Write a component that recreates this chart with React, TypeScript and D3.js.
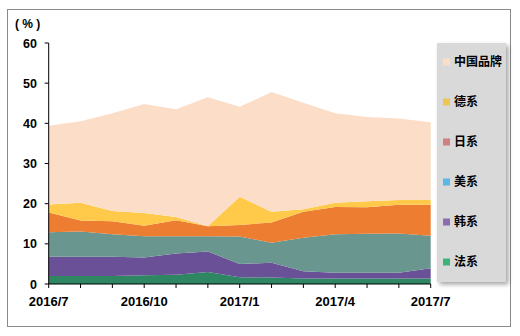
import React from "react";
import * as d3 from "d3";

const months = ["2016/7","2016/8","2016/9","2016/10","2016/11","2016/12","2017/1","2017/2","2017/3","2017/4","2017/5","2017/6","2017/7"];
const tickLabels = ["2016/7","2016/10","2017/1","2017/4","2017/7"];
const seriesNames = ["法系","韩系","美系","日系","德系","中国品牌"];
const french = [2.0,2.0,2.0,2.2,2.3,3.0,1.7,1.6,1.4,1.4,1.4,1.4,1.4];
const korean = [4.8,4.8,4.8,4.4,5.3,5.1,3.3,3.7,1.8,1.4,1.4,1.4,2.5];
const american = [6.1,6.3,5.6,5.3,4.3,3.8,6.8,5.0,8.3,9.6,9.7,9.8,8.1];
const japanese = [4.9,2.7,3.2,2.6,4.0,2.5,2.9,5.0,6.5,6.8,6.6,7.1,7.7];
const german = [2.0,4.4,2.6,3.2,0.8,0.0,7.0,2.7,0.6,1.0,1.5,1.2,1.2];
const chinese = [19.6,20.3,24.3,27.1,26.8,32.1,22.4,29.8,26.5,22.3,21.0,20.3,19.4];
const yTicks = [0,10,20,30,40,50,60];

const areaColors = ["#2E8663","#6A5096","#6A9690","#ED7D31","#FFC94A","#FCDEC8"];
const legendColors = ["#3DB37A","#8C6DB0","#5BB8E6","#D08080","#F0C450","#FBDEC8"];

export default function App() {
  const left = 48.7, right = 430.7, top = 43, bottom = 284;
  const x = d3.scalePoint<string>().domain(months).range([left, right]);
  const y = d3.scaleLinear().domain([0, 60]).range([bottom, top]);
  const values = [french, korean, american, japanese, german, chinese];
  const rows = months.map((m, i) => {
    const r: any = { month: m };
    seriesNames.forEach((s, k) => (r[s] = values[k][i]));
    return r;
  });
  const stack = d3.stack<any>().keys(seriesNames)(rows);
  const area = d3
    .area<any>()
    .x((d) => x(d.data.month) as number)
    .y0((d) => y(d[0]))
    .y1((d) => y(d[1]));
  const font = "'Liberation Sans', Arial, sans-serif";
  const cjk = "'Noto Sans CJK SC', sans-serif";
  const legendOrder = [5, 4, 3, 2, 1, 0];
  return (
    <svg width={520} height={336} style={{ position: "absolute", left: 0, top: 0 }}>
      <defs>
        <filter id="sh" x="-20%" y="-10%" width="150%" height="120%">
          <feDropShadow dx="2.5" dy="2.5" stdDeviation="2" floodColor="#000" floodOpacity="0.35" />
        </filter>
      </defs>
      <rect x={0} y={0} width={520} height={336} fill="#fff" />
      <rect x={7.5} y={9.5} width={503} height={317} fill="#fff" stroke="#8a8a8a" strokeWidth={1} />
      {stack.map((s, k) => (
        <path key={k} d={area(s) as string} fill={areaColors[k]} />
      ))}
      <line x1={left} x2={left} y1={top} y2={bottom} stroke="#000" />
      <line x1={left} x2={right} y1={bottom} y2={bottom} stroke="#000" />
      {yTicks.map((t) => (
        <g key={t}>
          <line x1={left - 4} x2={left} y1={y(t)} y2={y(t)} stroke="#000" />
          <text x={37} y={y(t)} dy="0.36em" textAnchor="end" fontFamily={font} fontWeight="bold" fontSize={12.5} fill="#000">{t}</text>
        </g>
      ))}
      {months.map((m) => (
        <line key={m} x1={x(m)} x2={x(m)} y1={bottom} y2={bottom + 4} stroke="#000" />
      ))}
      {tickLabels.map((m) => (
        <text key={m} x={x(m)} y={306} textAnchor="middle" fontFamily={font} fontWeight="bold" fontSize={13} fill="#000">{m}</text>
      ))}
      <text x={15} y={28} fontFamily={font} fontWeight="bold" fontSize={12} fill="#000">( % )</text>
      <rect x={437} y={43} width={69} height={239} fill="#d9d9d9" filter="url(#sh)" />
      {legendOrder.map((k, i) => {
        const cy = 62 + i * 40;
        return (
          <g key={k}>
            <rect x={443} y={cy - 3.5} width={7} height={7} fill={legendColors[k]} />
            <text x={454} y={cy} dy="0.36em" fontFamily={cjk} fontWeight="bold" fontSize={12} fill="#000">{seriesNames[k]}</text>
          </g>
        );
      })}
    </svg>
  );
}
